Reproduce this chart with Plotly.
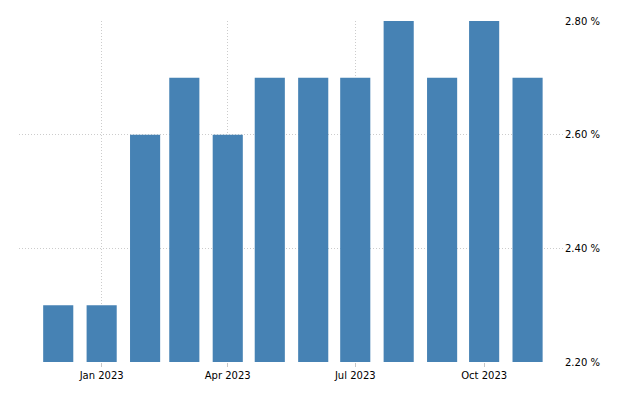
import plotly.graph_objects as go

months = ["2022-12-01", "2023-01-01", "2023-02-01", "2023-03-01", "2023-04-01", "2023-05-01",
          "2023-06-01", "2023-07-01", "2023-08-01", "2023-09-01", "2023-10-01", "2023-11-01"]
values = [2.3, 2.3, 2.6, 2.7, 2.6, 2.7, 2.7, 2.7, 2.8, 2.7, 2.8, 2.7]
tick_dates = ["2023-01-01", "2023-04-01", "2023-07-01", "2023-10-01"]
tick_labels = ["Jan 2023", "Apr 2023", "Jul 2023", "Oct 2023"]
y_ticks = [2.2, 2.4, 2.6, 2.8]
y_labels = ["2.20 %", "2.40 %", "2.60 %", "2.80 %"]

DAY_MS = 86400000

fig = go.Figure(go.Bar(
    x=months, y=values,
    width=[21.5 * DAY_MS] * len(months),
    marker=dict(color="#4682b4", line=dict(width=0)),
))

fig.update_layout(
    width=632, height=392,
    margin=dict(l=11, r=76, t=7, b=38),
    paper_bgcolor="white", plot_bgcolor="white",
    showlegend=False,
    font=dict(family="DejaVu Sans", size=10, color="#000000"),
    xaxis=dict(
        type="date",
        range=["2022-11-03", "2023-11-27"],
        tickvals=tick_dates, ticktext=tick_labels,
        showgrid=True, gridcolor="#cccccc", griddash="1px,2px", gridwidth=1,
        ticks="outside", ticklen=4, tickcolor="#c8c8c8",
        showline=False, zeroline=False,
    ),
    yaxis=dict(
        side="right",
        range=[2.2, 2.8],
        tickvals=y_ticks, ticktext=y_labels,
        showgrid=True, gridcolor="#cccccc", griddash="1px,2px", gridwidth=1,
        zeroline=False, showline=False, ticks="",
    ),
)

fig.write_html("out.html")
